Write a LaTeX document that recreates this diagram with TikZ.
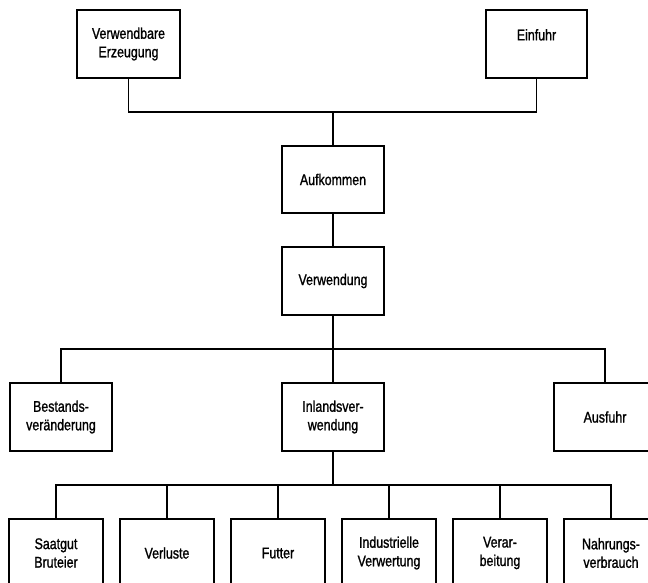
\documentclass[tikz,border=0pt]{standalone}
\usepackage{fontspec}
\setmainfont[FakeStretch=0.8,FakeBold=1.2]{Liberation Sans}
\begin{document}
\begin{tikzpicture}[x=1pt,y=-1pt,
  box/.style={draw,line width=1.2pt,minimum height=68pt,inner sep=0pt,align=center,
    font=\fontsize{15.5}{18.5}\selectfont},
  wbox/.style={box,minimum width=102pt},
  nbox/.style={box,minimum width=94pt},
  conn/.style={line width=1.2pt}]
\path[use as bounding box,clip] (0,0) rectangle (648,583);
% top row
\node[box,minimum width=103pt] (ve) at (128.5,44) {Verwendbare\\Erzeugung};
\node[box,minimum width=101pt] (ei) at (536.5,44) {Einfuhr\\\mbox{}};
\node[wbox,minimum height=67pt] (au) at (333,179.5) {Aufkommen};
\node[wbox] (vw) at (333,281) {Verwendung};
% middle row
\node[wbox] (be) at (61,417) {Bestands-\\veränderung};
\node[wbox] (in) at (333,417) {Inlandsver-\\wendung};
\node[wbox] (af) at (605,417) {Ausfuhr};
% bottom row
\node[nbox] (s1) at (56,553) {Saatgut\\Bruteier};
\node[nbox] (s2) at (167,553) {Verluste};
\node[nbox] (s3) at (278,553) {Futter};
\node[nbox] (s4) at (389,553) {Industrielle\\Verwertung};
\node[nbox] (s5) at (500,553) {Verar-\\beitung};
\node[nbox] (s6) at (611,553) {Nahrungs-\\verbrauch};
% junctions
\coordinate (t) at (333,112);
\coordinate (m) at (333,349);
\coordinate (b) at (333,485);
% connectors
\draw[conn] (ve) |- (t) -| (ei);
\draw[conn] (t) -- (au);
\draw[conn] (au) -- (vw);
\draw[conn] (vw) -- (in);
\draw[conn] (be) |- (m) -| (af);
\draw[conn] (in) -- (b);
\draw[conn] (s1) |- (b) -| (s6);
\draw[conn] (s2) -- (s2 |- b);
\draw[conn] (s3) -- (s3 |- b);
\draw[conn] (s4) -- (s4 |- b);
\draw[conn] (s5) -- (s5 |- b);
\end{tikzpicture}
\end{document}
